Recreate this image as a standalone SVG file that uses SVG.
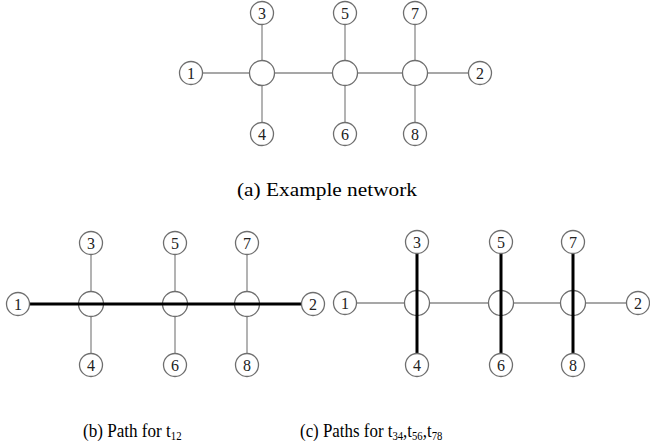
<svg xmlns="http://www.w3.org/2000/svg" width="650" height="446" viewBox="0 0 650 446">
<style>
.e{stroke:#8a8a8a;stroke-width:1.3;fill:none}
.t{stroke:#000;stroke-width:3;fill:none}
.n{fill:#fff;stroke:#6e6e6e;stroke-width:1.3}
.l{font-size:16px;fill:#222;text-anchor:middle}
.c{font-size:19px;fill:#000}
.s{font-size:12px}
</style>
<rect width="650" height="446" fill="#fff"/>
<g font-family="'Liberation Serif','Times New Roman','DejaVu Serif',serif">
<!-- (a) -->
<g id="a">
<g id="a-edges">
<line class="e" x1="191" y1="73" x2="480" y2="73"/>
<line class="e" x1="262" y1="13" x2="262" y2="134"/>
<line class="e" x1="345" y1="13" x2="345" y2="134"/>
<line class="e" x1="415" y1="13" x2="415" y2="134"/>
</g>
<g id="a-h1"><circle class="n" cx="262" cy="73" r="12.5"/></g>
<g id="a-h2"><circle class="n" cx="345" cy="73" r="12.5"/></g>
<g id="a-h3"><circle class="n" cx="415" cy="73" r="12.5"/></g>
<g id="a-n1"><circle class="n" cx="191" cy="73" r="11.5"/><text class="l" x="191" y="78.5">1</text></g>
<g id="a-n2"><circle class="n" cx="480" cy="73" r="11.5"/><text class="l" x="480" y="78.5">2</text></g>
<g id="a-n3"><circle class="n" cx="262" cy="13" r="11.5"/><text class="l" x="262" y="18.5">3</text></g>
<g id="a-n4"><circle class="n" cx="262" cy="134" r="11.5"/><text class="l" x="262" y="139.5">4</text></g>
<g id="a-n5"><circle class="n" cx="345" cy="13" r="11.5"/><text class="l" x="345" y="18.5">5</text></g>
<g id="a-n6"><circle class="n" cx="345" cy="134" r="11.5"/><text class="l" x="345" y="139.5">6</text></g>
<g id="a-n7"><circle class="n" cx="415" cy="13" r="11.5"/><text class="l" x="415" y="18.5">7</text></g>
<g id="a-n8"><circle class="n" cx="415" cy="134" r="11.5"/><text class="l" x="415" y="139.5">8</text></g>
<text class="c" x="237" y="196" textLength="180" lengthAdjust="spacingAndGlyphs">(a) Example network</text>
</g>
<!-- (b) -->
<g id="b">
<g id="b-edges">
<line class="e" x1="91" y1="243" x2="91" y2="365"/>
<line class="e" x1="175" y1="243" x2="175" y2="365"/>
<line class="e" x1="247" y1="243" x2="247" y2="365"/>
</g>
<g id="b-h1"><circle class="n" cx="91" cy="304" r="12.5"/></g>
<g id="b-h2"><circle class="n" cx="175" cy="304" r="12.5"/></g>
<g id="b-h3"><circle class="n" cx="247" cy="304" r="12.5"/></g>
<g id="b-path"><line class="t" x1="29.5" y1="304" x2="301.5" y2="304"/></g>
<g id="b-n1"><circle class="n" cx="18" cy="304" r="11.5"/><text class="l" x="18" y="309.5">1</text></g>
<g id="b-n2"><circle class="n" cx="313" cy="304" r="11.5"/><text class="l" x="313" y="309.5">2</text></g>
<g id="b-n3"><circle class="n" cx="91" cy="243" r="11.5"/><text class="l" x="91" y="248.5">3</text></g>
<g id="b-n4"><circle class="n" cx="91" cy="365" r="11.5"/><text class="l" x="91" y="370.5">4</text></g>
<g id="b-n5"><circle class="n" cx="175" cy="243" r="11.5"/><text class="l" x="175" y="248.5">5</text></g>
<g id="b-n6"><circle class="n" cx="175" cy="365" r="11.5"/><text class="l" x="175" y="370.5">6</text></g>
<g id="b-n7"><circle class="n" cx="247" cy="243" r="11.5"/><text class="l" x="247" y="248.5">7</text></g>
<g id="b-n8"><circle class="n" cx="247" cy="365" r="11.5"/><text class="l" x="247" y="370.5">8</text></g>
<text class="c" transform="translate(83,437) scale(0.9,1)" x="0" y="0">(b) Path for t<tspan class="s" dy="3">12</tspan></text>
</g>
<!-- (c) -->
<g id="c">
<g id="c-edges">
<line class="e" x1="345" y1="303" x2="638" y2="303"/>
</g>
<g id="c-h1"><circle class="n" cx="417" cy="303" r="12.5"/></g>
<g id="c-h2"><circle class="n" cx="501" cy="303" r="12.5"/></g>
<g id="c-h3"><circle class="n" cx="573" cy="303" r="12.5"/></g>
<g id="c-paths">
<line class="t" x1="417" y1="253.5" x2="417" y2="353.5"/>
<line class="t" x1="501" y1="253.5" x2="501" y2="353.5"/>
<line class="t" x1="573" y1="253.5" x2="573" y2="353.5"/>
</g>
<g id="c-n1"><circle class="n" cx="345" cy="303" r="11.5"/><text class="l" x="345" y="308.5">1</text></g>
<g id="c-n2"><circle class="n" cx="638" cy="303" r="11.5"/><text class="l" x="638" y="308.5">2</text></g>
<g id="c-n3"><circle class="n" cx="417" cy="242" r="11.5"/><text class="l" x="417" y="247.5">3</text></g>
<g id="c-n4"><circle class="n" cx="417" cy="365" r="11.5"/><text class="l" x="417" y="370.5">4</text></g>
<g id="c-n5"><circle class="n" cx="501" cy="242" r="11.5"/><text class="l" x="501" y="247.5">5</text></g>
<g id="c-n6"><circle class="n" cx="501" cy="365" r="11.5"/><text class="l" x="501" y="370.5">6</text></g>
<g id="c-n7"><circle class="n" cx="573" cy="242" r="11.5"/><text class="l" x="573" y="247.5">7</text></g>
<g id="c-n8"><circle class="n" cx="573" cy="365" r="11.5"/><text class="l" x="573" y="370.5">8</text></g>
<text class="c" transform="translate(300,437) scale(0.89,1)" x="0" y="0">(c) Paths for t<tspan class="s" dy="3">34</tspan><tspan dy="-3">,t</tspan><tspan class="s" dy="3">56</tspan><tspan dy="-3">,t</tspan><tspan class="s" dy="3">78</tspan></text>
</g>
</g>
</svg>
